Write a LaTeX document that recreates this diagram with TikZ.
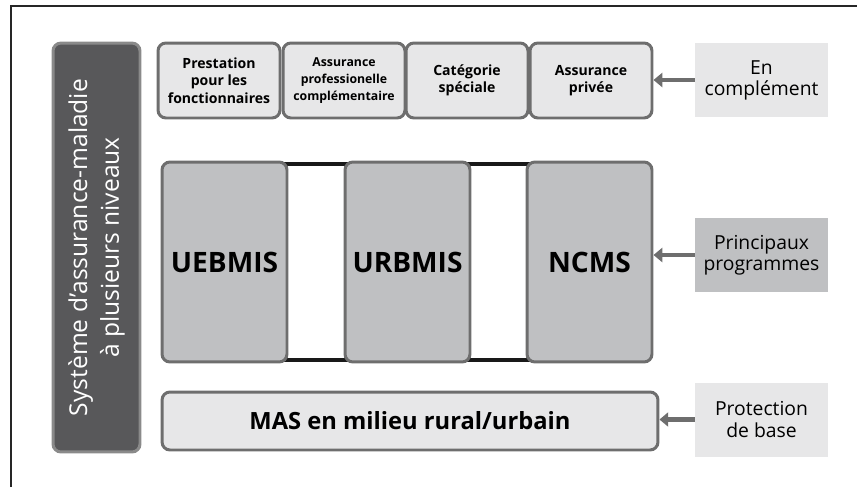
\documentclass[tikz,border=0pt]{standalone}
\usepackage{fontspec}
\setmainfont{Open Sans}
\usetikzlibrary{arrows.meta}

\definecolor{sidegray}{HTML}{58585A}
\definecolor{sideedge}{HTML}{8A8A8A}
\definecolor{edgegray}{HTML}{6E6E6E}
\definecolor{lightfill}{HTML}{E7E7E8}
\definecolor{midfill}{HTML}{BFC0C2}

\tikzset{
  topbox/.style={draw=edgegray, line width=1.7pt, fill=lightfill, rounded corners=4.5pt,
    minimum width=2.44cm, minimum height=1.5cm, align=center, inner sep=1pt,
    font=\bfseries\fontsize{8}{10}\selectfont},
  progbox/.style={draw=edgegray, line width=1.7pt, fill=midfill, rounded corners=4.5pt,
    minimum width=2.5cm, minimum height=4cm, font=\bfseries\fontsize{16}{18}\selectfont},
  sidelabel/.style={fill=lightfill, minimum width=2.66cm, minimum height=1.48cm,
    align=center, inner sep=1pt, font=\fontsize{11}{12}\selectfont},
  pointer/.style={draw=edgegray, line width=2.8pt, -{Triangle[length=5pt, width=8pt]}}
}

\begin{document}
\begin{tikzpicture}[x=0.02cm, y=-0.02cm]

	\useasboundingbox (0,0) rectangle (857,487);

	% frame
	\draw[line width=0.9pt, black!85] (11,487) -- (11,6) -- (857,6);

	% side bar
	\node[draw=sideedge, line width=1.7pt, fill=sidegray, rounded corners=4.5pt, rotate=90,
		minimum width=8.18cm, minimum height=1.74cm, align=center, text=white,
		font=\fontsize{14}{18}\selectfont] (sys) at (96.5,247.5)
		{Système d'assurance-maladie\\à plusieurs niveaux};

	% top row
	\node[topbox] (pf) at (219,80.5) {Prestation\\pour les\\fonctionnaires};
	\node[topbox, font=\bfseries\fontsize{7}{9.5}\selectfont] (apc) at (344,80.5)
		{Assurance\\professionelle\\complémentaire};
	\node[topbox] (cs) at (467,80.5) {Catégorie\\spéciale};
	\node[topbox] (ap) at (591,80.5) {Assurance\\privée};

	% main programmes
	\draw[line width=2.8pt, black!90] (262,164) -- (597,164);
	\draw[line width=2.8pt, black!90] (262,360) -- (597,360);
	\node[progbox] (ueb) at (224.5,262) {UEBMIS};
	\node[progbox] (urb) at (407.5,262) {URBMIS};
	\node[progbox] (ncms) at (589.5,262) {NCMS};

	% basic protection
	\node[draw=edgegray, line width=1.7pt, fill=lightfill, rounded corners=4.5pt,
		minimum width=9.92cm, minimum height=1.16cm,
		font=\bfseries\fontsize{13.5}{16}\selectfont] (mas) at (410,421)
		{MAS en milieu rural/urbain};

	% labels on the right
	\node[sidelabel] (enc) at (761.5,80) {En\\complément};
	\node[sidelabel, fill=midfill] (prin) at (761.5,255) {Principaux\\programmes};
	\node[sidelabel] (prot) at (761.5,419.5) {Protection\\de base};

	\draw[pointer] (enc.west) -- (enc.west -| ap.east);
	\draw[pointer] (prin.west) -- (prin.west -| ncms.east);
	\draw[pointer] (prot.west) -- (prot.west -| mas.east);

\end{tikzpicture}
\end{document}
